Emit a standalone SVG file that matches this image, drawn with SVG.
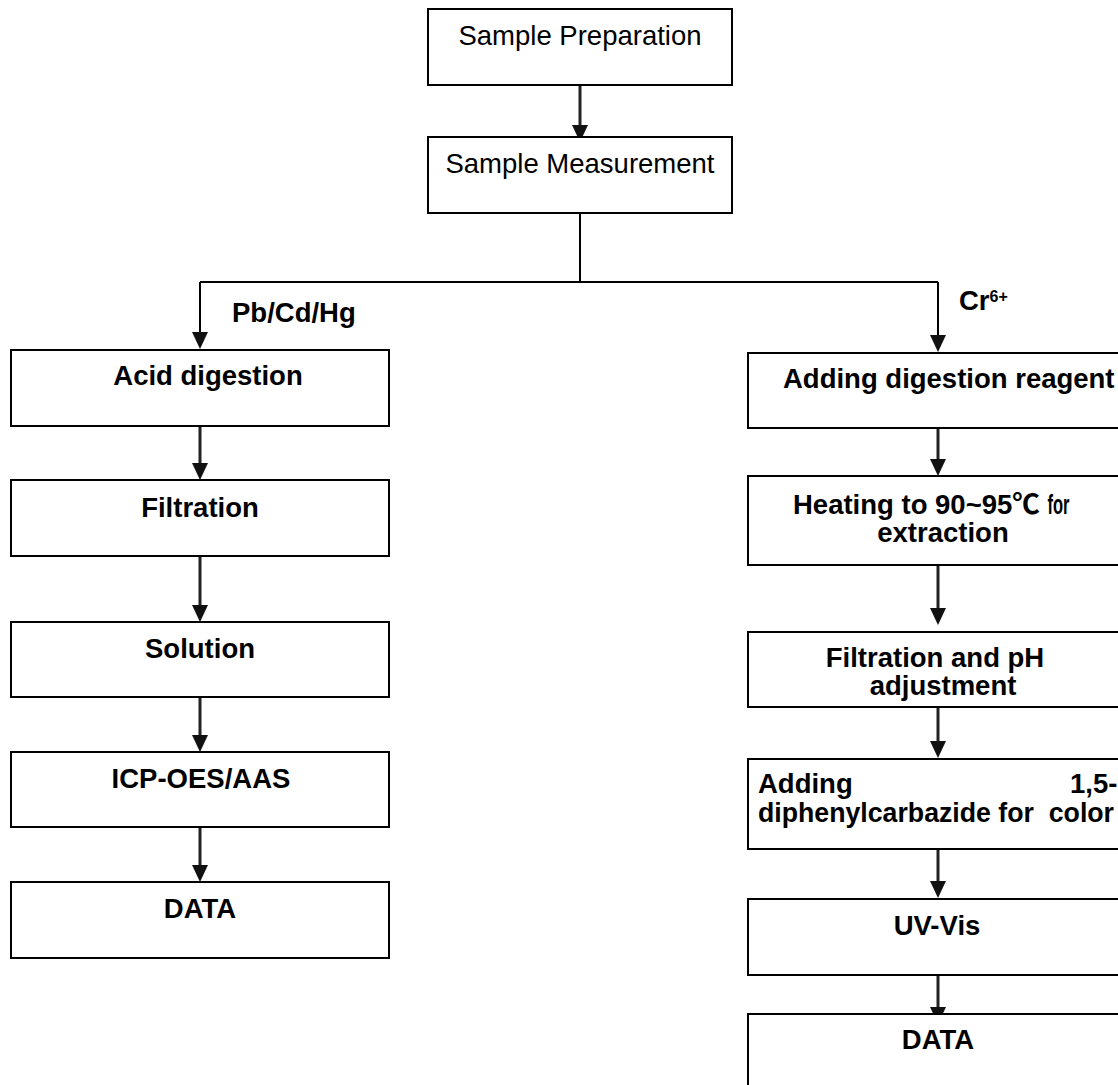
<svg xmlns="http://www.w3.org/2000/svg" width="1118" height="1085" viewBox="0 0 1118 1085">
<style>
.box{fill:#fff;stroke:#000;stroke-width:2}
.t{font-family:"Liberation Sans",Arial,"Noto Sans CJK SC",sans-serif;font-size:27.5px;fill:#000}
.b{font-weight:bold}
.c{text-anchor:middle}
.ln{fill:none;stroke:#000;stroke-width:2}
.ar{fill:none;stroke:#222;stroke-width:3}
</style>
<defs>
<marker id="ah" markerUnits="userSpaceOnUse" markerWidth="18" markerHeight="18" refX="8" refY="8" orient="auto">
<path d="M0,0 L17,8 L0,16 z" fill="#111"/>
</marker>
</defs>
<rect width="1118" height="1085" fill="#fff"/>
<g id="connectors">
<path class="ar" d="M580,85 V133" marker-end="url(#ah)"/>
<path class="ln" d="M580,213 V282"/>
<path class="ln" d="M200,282 H938"/>
<path class="ln" d="M200,282 V340" marker-end="url(#ah)"/>
<path class="ln" d="M938,282 V343" marker-end="url(#ah)"/>
<path class="ar" d="M200,426 V471" marker-end="url(#ah)"/>
<path class="ar" d="M200,556 V613" marker-end="url(#ah)"/>
<path class="ar" d="M200,697 V743" marker-end="url(#ah)"/>
<path class="ar" d="M200,827 V873" marker-end="url(#ah)"/>
<path class="ar" d="M938,428 V467" marker-end="url(#ah)"/>
<path class="ar" d="M938,565 V616" marker-end="url(#ah)"/>
<path class="ar" d="M938,707 V749" marker-end="url(#ah)"/>
<path class="ar" d="M938,849 V889" marker-end="url(#ah)"/>
<path class="ar" d="M938,975 V1015" marker-end="url(#ah)"/>
</g>
<g id="labels">
<text class="t b" x="232" y="322">Pb/Cd/Hg</text>
<text class="t b" x="959" y="310" font-size="26">Cr<tspan font-size="16" dy="-8">6+</tspan></text>
</g>
<g id="n-prep"><rect class="box" x="428" y="9" width="304" height="76"/><text class="t c" x="580" y="45">Sample Preparation</text></g>
<g id="n-meas"><rect class="box" x="428" y="137" width="304" height="76"/><text class="t c" x="580" y="173">Sample Measurement</text></g>
<g id="n-acid"><rect class="box" x="11" y="350" width="378" height="76"/><text class="t b c" x="208" y="385">Acid digestion</text></g>
<g id="n-filt"><rect class="box" x="11" y="480" width="378" height="76"/><text class="t b c" x="200" y="517">Filtration</text></g>
<g id="n-sol"><rect class="box" x="11" y="622" width="378" height="75"/><text class="t b c" x="200" y="658">Solution</text></g>
<g id="n-icp"><rect class="box" x="11" y="752" width="378" height="75"/><text class="t b c" x="201" y="788">ICP-OES/AAS</text></g>
<g id="n-data1"><rect class="box" x="11" y="882" width="378" height="76"/><text class="t b c" x="200" y="918">DATA</text></g>
<g id="n-reag"><rect class="box" x="748" y="353" width="380" height="75"/><text class="t b" x="783" y="388">Adding digestion reagent</text></g>
<g id="n-heat"><rect class="box" x="748" y="476" width="380" height="89"/><text class="t b" x="793" y="514">Heating to 90~95℃ <tspan textLength="22" lengthAdjust="spacingAndGlyphs">for</tspan></text><text class="t b c" x="943" y="542">extraction</text></g>
<g id="n-fph"><rect class="box" x="748" y="632" width="380" height="75"/><text class="t b c" x="935" y="667">Filtration and pH</text><text class="t b c" x="943" y="695">adjustment</text></g>
<g id="n-dpc"><rect class="box" x="748" y="759" width="380" height="90"/><text class="t b" x="758" y="793">Adding</text><text class="t b" x="1070" y="793">1,5-</text><text class="t b" x="758" y="822" font-size="27" textLength="356" lengthAdjust="spacingAndGlyphs" xml:space="preserve">diphenylcarbazide for  color</text></g>
<g id="n-uv"><rect class="box" x="748" y="899" width="380" height="76"/><text class="t b c" x="937" y="935">UV-Vis</text></g>
<g id="n-data2"><rect class="box" x="748" y="1014" width="380" height="90"/><text class="t b c" x="938" y="1049">DATA</text></g>
</svg>
